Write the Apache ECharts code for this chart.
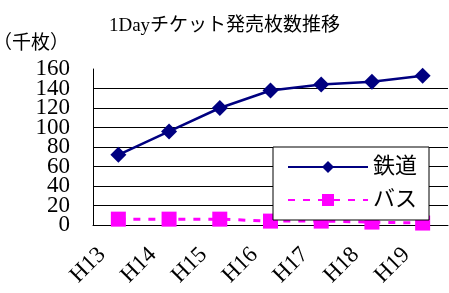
<!DOCTYPE html>
<html>
<head>
<meta charset="utf-8">
<script src="https://cdn.jsdelivr.net/npm/echarts@6/dist/echarts.min.js"></script>
<style>
  html, body { margin: 0; padding: 0; background: #fff; }
</style>
</head>
<body>
<div id="main" style="width: 449px; height: 293px"></div>
<script>
// 年度
var categories = ['H13', 'H14', 'H15', 'H16', 'H17', 'H18', 'H19'];
// 鉄道・バス（千枚）
var railValues = [72, 96, 120, 138, 144, 147, 153];
var busValues = [6, 6, 6, 4, 4, 3, 2];
var yTicks = { min: 0, max: 160, step: 20 };

var font = '"Liberation Serif", "Noto Sans CJK JP", serif';
var yLabelStyle = { margin: 23, fontFamily: font, fontSize: 23, color: '#000' };

var option = {
  backgroundColor: '#fff',
  animation: false,
  title: {
    text: '1Dayチケット発売枚数推移',
    left: 'center',
    top: 12,
    textStyle: { fontFamily: font, fontWeight: 'normal', fontSize: 19, color: '#000' }
  },
  legend: {
    data: ['鉄道', 'バス'],
    orient: 'vertical',
    left: 273,
    top: 147,
    padding: [9, 12, 9, 14],
    itemGap: 11,
    itemWidth: 80,
    itemHeight: 15,
    backgroundColor: '#fff',
    borderColor: '#000',
    borderWidth: 1,
    borderRadius: 0,
    textStyle: { fontFamily: font, fontSize: 22, color: '#000' }
  },
  grid: { left: 93, right: 1, top: 69, bottom: 68, containLabel: false, outerBoundsMode: 'none' },
  xAxis: {
    type: 'category',
    data: categories,
    boundaryGap: true,
    axisLine: { lineStyle: { color: '#000', width: 1 } },
    axisTick: { inside: true, length: 5, lineStyle: { color: '#000' } },
    axisLabel: { rotate: 45, margin: 10, padding: [0, 23, 0, 0], hideOverlap: false, fontFamily: font, fontSize: 23, color: '#000' }
  },
  yAxis: [
    {
      // 20〜140 の目盛ラベル
      type: 'value',
      min: yTicks.min,
      max: yTicks.max,
      interval: yTicks.step,
      name: '（千枚）',
      nameLocation: 'end',
      nameGap: 15,
      nameTextStyle: { fontFamily: font, fontSize: 19, color: '#000', align: 'right', padding: [0, 24, 0, 0] },
      axisLine: { show: true, lineStyle: { color: '#000', width: 1 } },
      axisTick: { show: true, inside: true, length: 7, lineStyle: { color: '#000' } },
      axisLabel: Object.assign({ showMinLabel: false, showMaxLabel: false }, yLabelStyle),
      splitLine: { show: true, showMaxLine: false, lineStyle: { color: '#000', width: 1 } }
    },
    {
      // 0 と 160 のラベル（隣と重なっても消さない）
      type: 'value',
      position: 'left',
      min: yTicks.min,
      max: yTicks.max,
      interval: yTicks.step,
      axisLine: { show: false },
      axisTick: { show: false },
      splitLine: { show: false },
      axisLabel: Object.assign({
        showMinLabel: true,
        showMaxLabel: true,
        formatter: function (v) { return (v === yTicks.min || v === yTicks.max) ? String(v) : ''; }
      }, yLabelStyle)
    }
  ],
  series: [
    {
      name: '鉄道',
      type: 'line',
      data: railValues,
      symbol: 'diamond',
      symbolSize: 16,
      lineStyle: { color: '#000080', width: 2.5 },
      itemStyle: { color: '#000080' },
      z: 3
    },
    {
      name: 'バス',
      type: 'line',
      data: busValues,
      symbol: 'rect',
      symbolSize: 15,
      lineStyle: { color: '#FF00FF', width: 3, type: [7, 8] },
      itemStyle: { color: '#FF00FF' },
      z: 2
    }
  ]
};

var myChart = echarts.init(document.getElementById('main'), null, { renderer: 'canvas' });
myChart.setOption(option);
</script>
</body>
</html>
